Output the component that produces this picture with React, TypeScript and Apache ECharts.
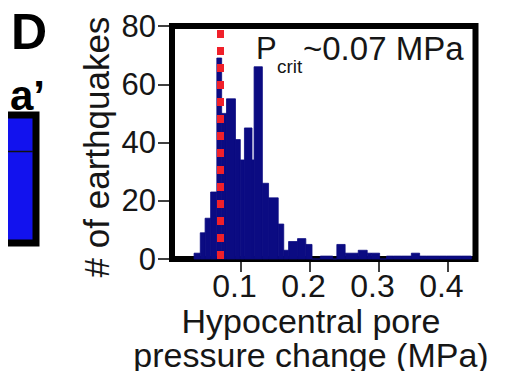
import React, { useEffect, useRef } from "react";
import * as echarts from "echarts";

// Histogram bin edges (MPa) and number of earthquakes in each bin
const binEdges = [
  0.032, 0.041, 0.048, 0.056, 0.065, 0.072, 0.079, 0.092, 0.099, 0.105,
  0.116, 0.119, 0.131, 0.14, 0.154, 0.162, 0.169, 0.182, 0.194, 0.203,
  0.215, 0.233, 0.239, 0.251, 0.27, 0.283, 0.289, 0.301, 0.311, 0.321,
  0.333, 0.347, 0.359, 0.369, 0.388, 0.398, 0.42, 0.434,
];
const binCounts = [
  2, 9, 14, 23, 69, 50, 55, 41, 34, 45, 34, 66, 26, 21, 12, 3, 6, 7, 5, 0,
  1, 0, 5, 2, 3, 2, 2, 0, 1, 1, 1, 2, 1, 1, 1, 1, 1,
];

// Critical pore pressure threshold (MPa)
const pCrit = 0.07;

const xTicks = [0.1, 0.2, 0.3, 0.4];
const yTicks = [0, 20, 40, 60, 80];

const FONT = "Liberation Sans, Arial, sans-serif";
const TEXT = "#161616";
const NAVY = "#0b0b82";

export default function App() {
  const ref = useRef<HTMLDivElement>(null);

  useEffect(() => {
    if (!ref.current) return;
    const chart = echarts.init(ref.current, null, { renderer: "svg" });

    const data = binCounts.map((c, i) => [binEdges[i], binEdges[i + 1], c]);

    chart.setOption({
      animation: false,
      grid: {
        left: 172,
        right: 34.5,
        top: 26,
        bottom: 120,
        show: true,
        borderColor: "#000",
        borderWidth: 6,
        backgroundColor: "transparent",
      },
      xAxis: {
        type: "value",
        min: 0,
        max: 0.44,
        interval: 0.1,
        axisLine: { show: false },
        splitLine: { show: false },
        axisTick: {
          show: true,
          inside: false,
          length: 13,
          customValues: xTicks,
          lineStyle: { color: "#000", width: 1.5 },
        },
        axisLabel: {
          margin: 10.5,
          fontFamily: FONT,
          fontSize: 32,
          color: TEXT,
          padding: [0, 13, 0, 0],
          customValues: xTicks,
          formatter: (v: number) => v.toFixed(1),
        },
      },
      yAxis: {
        type: "value",
        min: 0,
        max: 80,
        interval: 20,
        axisLine: { show: false },
        splitLine: { show: false },
        axisTick: {
          show: true,
          inside: false,
          length: 14,
          customValues: yTicks,
          lineStyle: { color: "#000", width: 1.5 },
        },
        axisLabel: {
          margin: 16,
          fontFamily: FONT,
          fontSize: 31,
          color: TEXT,
          customValues: yTicks,
          formatter: (v: number) => String(v),
        },
      },
      series: [
        {
          type: "custom",
          data,
          encode: { x: [0, 1], y: 2 },
          renderItem: (params: any, api: any) => {
            const x0 = api.value(0);
            const x1 = api.value(1);
            const c = api.value(2);
            const pTop = api.coord([x0, c]);
            const pBot = api.coord([x1, 0]);
            return {
              type: "rect",
              shape: {
                x: pTop[0],
                y: pTop[1],
                width: pBot[0] - pTop[0],
                height: pBot[1] - pTop[1],
              },
              style: { fill: NAVY, stroke: NAVY, lineWidth: 0.8 },
            };
          },
          markLine: {
            silent: true,
            symbol: "none",
            label: { show: false },
            lineStyle: {
              color: "#f0202a",
              width: 7,
              type: [8, 9],
            },
            data: [{ xAxis: pCrit }],
          },
        },
      ],
      graphic: [
        // neighbouring panel edge
        {
          type: "line",
          shape: { x1: 0, y1: 1, x2: 481, y2: 1 },
          style: { stroke: "#000", lineWidth: 2.5 },
        },
        {
          type: "rect",
          shape: { x: -20, y: 115, width: 56, height: 128 },
          style: { fill: "#1212ee", stroke: "#000", lineWidth: 7 },
        },
        {
          type: "line",
          shape: { x1: 0, y1: 151.5, x2: 33, y2: 151.5 },
          style: { stroke: "#111", lineWidth: 1.5 },
        },
        {
          type: "text",
          x: 11,
          y: 32,
          style: {
            text: "D",
            font: `bold 50px ${FONT}`,
            fill: "#000",
            textAlign: "left",
            textVerticalAlign: "middle",
          },
        },
        {
          type: "text",
          x: 10,
          y: 95,
          style: {
            text: "a’",
            font: `bold 42px ${FONT}`,
            fill: "#000",
            textAlign: "left",
            textVerticalAlign: "middle",
          },
        },
        // threshold annotation
        {
          type: "text",
          x: 256,
          y: 48.5,
          style: {
            text: "P",
            font: `31px ${FONT}`,
            fill: TEXT,
            textAlign: "left",
            textVerticalAlign: "middle",
          },
        },
        {
          type: "text",
          x: 277,
          y: 66,
          style: {
            text: "crit",
            font: `19px ${FONT}`,
            fill: TEXT,
            textAlign: "left",
            textVerticalAlign: "middle",
          },
        },
        {
          type: "text",
          x: 303,
          y: 48.5,
          style: {
            text: "~0.07 MPa",
            font: `33px ${FONT}`,
            fill: TEXT,
            textAlign: "left",
            textVerticalAlign: "middle",
          },
        },
        // axis titles
        {
          type: "text",
          x: 96,
          y: 147,
          rotation: Math.PI / 2,
          style: {
            text: "# of earthquakes",
            font: `35px ${FONT}`,
            fill: TEXT,
            textAlign: "center",
            textVerticalAlign: "middle",
          },
        },
        {
          type: "text",
          x: 311,
          y: 320.5,
          style: {
            text: "Hypocentral pore",
            font: `34px ${FONT}`,
            lineHeight: 32,
            fill: TEXT,
            textAlign: "center",
            textVerticalAlign: "middle",
          },
        },
        {
          type: "text",
          x: 311,
          y: 355,
          style: {
            text: "pressure change (MPa)",
            font: `34px ${FONT}`,
            lineHeight: 32,
            fill: TEXT,
            textAlign: "center",
            textVerticalAlign: "middle",
          },
        },
      ],
    });

    return () => chart.dispose();
  }, []);

  return <div ref={ref} style={{ width: 510, height: 379, margin: -8 }} />;
}
